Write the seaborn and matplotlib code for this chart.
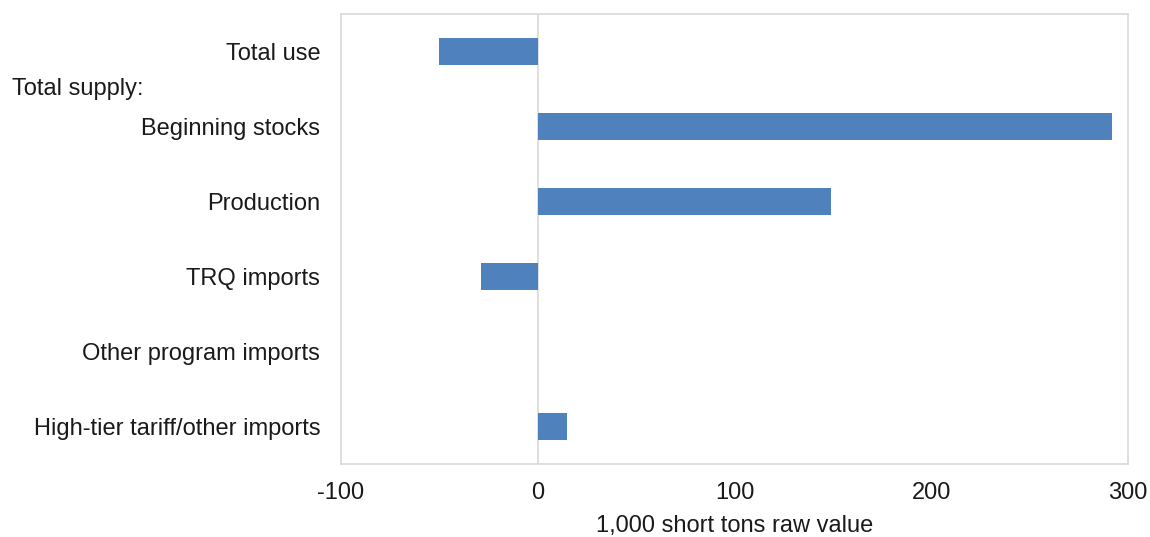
import matplotlib
matplotlib.use("Agg")
import matplotlib.pyplot as plt
import seaborn as sns
import pandas as pd

categories = [
    "Total use",
    "Beginning stocks",
    "Production",
    "TRQ imports",
    "Other program imports",
    "High-tier tariff/other imports",
]
changes = [-50, 292, 149, -29, 0, 15]
group_label = "Total supply:"
x_ticks = [-100, 0, 100, 200, 300]
x_label = "1,000 short tons raw value"

sns.set_theme(style="white")
plt.rcParams["font.family"] = ["Liberation Sans", "DejaVu Sans"]

df = pd.DataFrame({"category": categories, "change": changes})

fig = plt.figure(figsize=(11.5, 5.37), dpi=100)
ax = fig.add_axes([0.2965, 0.1359, 0.6844, 0.838])

sns.barplot(data=df, x="change", y="category", orient="h", color="#4F81BD",
            saturation=1, width=0.36, linewidth=0, ax=ax)

ax.set_xlim(-100, 300)
ax.set_ylim(5.5, -0.5)
ax.set_xticks(x_ticks)
ax.set_xticklabels([str(t) for t in x_ticks])
ax.set_xlabel(x_label, fontsize=17, color="#1a1a1a", labelpad=8)
ax.set_ylabel("")
ax.tick_params(axis="both", length=0, labelsize=17, colors="#1a1a1a")
ax.tick_params(axis="x", pad=13)
ax.tick_params(axis="y", pad=15)

for side in ["left", "right", "top", "bottom"]:
    ax.spines[side].set_visible(True)
    ax.spines[side].set_color("#D9D9D9")
    ax.spines[side].set_linewidth(1.2)

ax.axvline(0, color="#D9D9D9", linewidth=1.2, zorder=0)

ax.text(-0.418, 0.5, group_label, transform=ax.get_yaxis_transform(),
        ha="left", va="center", fontsize=17, color="#1a1a1a")

fig.savefig("out.png", dpi=100)
